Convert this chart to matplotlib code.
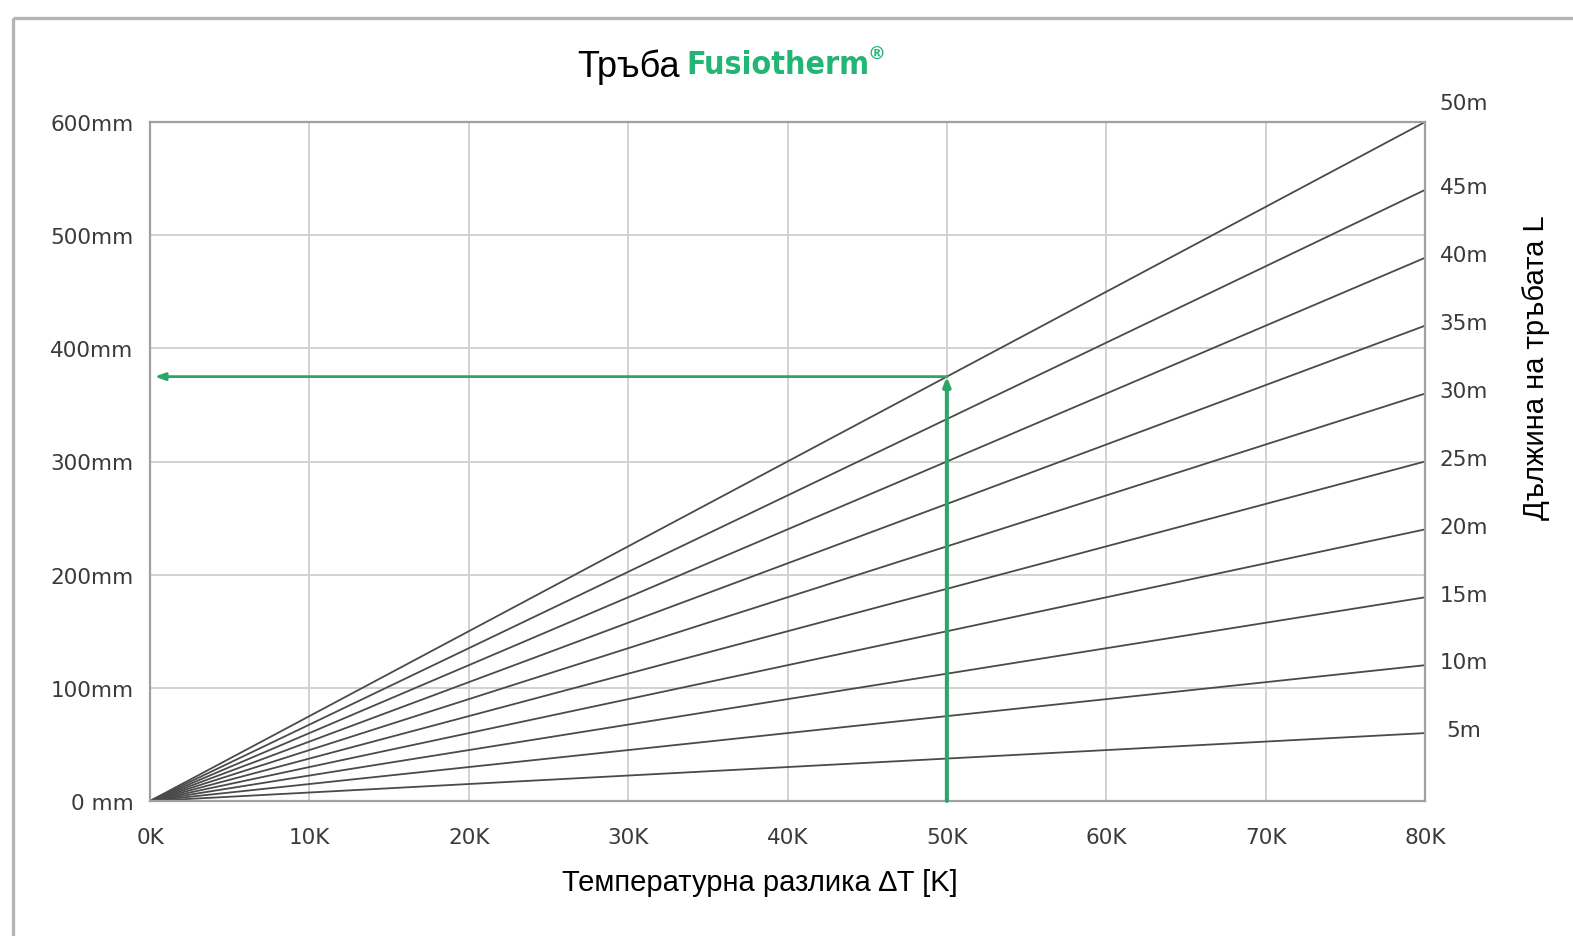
import matplotlib
matplotlib.use('Agg')
import matplotlib.pyplot as plt
from matplotlib.lines import Line2D

# ---- data ----
delta_t_ticks = [0, 10, 20, 30, 40, 50, 60, 70, 80]
x_tick_labels = ['0K', '10K', '20K', '30K', '40K', '50K', '60K', '70K', '80K']
y_ticks = [0, 100, 200, 300, 400, 500, 600]
y_tick_labels = ['0 mm', '100mm', '200mm', '300mm', '400mm', '500mm', '600mm']
pipe_lengths = ['5m', '10m', '15m', '20m', '25m', '30m', '35m', '40m', '45m', '50m']
expansion_at_80k = [60, 120, 180, 240, 300, 360, 420, 480, 540, 600]
dt_start = 0
dt_end = 80
selected_dt = 50
selected_expansion = 375

title_plain = 'Тръба'
title_brand = 'Fusiotherm'
x_label = 'Температурна разлика ∆T [K]'
right_label = 'Дължина на тръбата L'

W, H = 1573, 937
fig = plt.figure(figsize=(W / 100, H / 100), dpi=100)
fig.patch.set_facecolor('white')

# outer frame
frame_c = '#b4b4b4'
fig.add_artist(Line2D([13 / W, 13 / W], [0, 1 - 19 / H], transform=fig.transFigure,
                      color=frame_c, lw=2.4, solid_capstyle='butt'))
fig.add_artist(Line2D([13 / W, 1], [1 - 19 / H, 1 - 19 / H], transform=fig.transFigure,
                      color=frame_c, lw=2.4, solid_capstyle='butt'))

ax = fig.add_axes([150 / W, 1 - 802 / H, 1275 / W, 679 / H])
ax.set_xlim(dt_start, dt_end)
ax.set_ylim(0, 600)

grid_c = '#d2d2d2'
ax.set_xticks(delta_t_ticks)
ax.set_yticks(y_ticks)
ax.grid(True, color=grid_c, lw=1.4)
ax.set_axisbelow(True)
for s in ax.spines.values():
    s.set_color('#a0a0a0')
    s.set_linewidth(1.6)

tick_font = dict(family='DejaVu Sans', size=15.5, color='#3a3a3a')
ax.set_xticklabels(x_tick_labels, **tick_font)
ax.set_yticklabels(y_tick_labels, **tick_font)
ax.tick_params(axis='x', length=0, pad=19)
ax.tick_params(axis='y', length=0, pad=12)

# expansion lines
for lab, val in zip(pipe_lengths, expansion_at_80k):
    ax.plot([dt_start, dt_end], [0, val], color='#4a4a4a', lw=1.3, solid_capstyle='round')
    dy = 14 if lab == '50m' else 2
    ax.annotate(lab, xy=(dt_end, val), xytext=(28, dy), textcoords='offset points',
                ha='center', va='center', **tick_font)

# green reading path
green = '#2aa768'
ax.annotate('', xy=(selected_dt, selected_expansion), xytext=(selected_dt, 0),
            arrowprops=dict(arrowstyle='-|>,head_length=0.5,head_width=0.2',
                            color=green, lw=2.9, shrinkA=0, shrinkB=0))
ax.annotate('', xy=(dt_start + 0.3, selected_expansion), xytext=(selected_dt, selected_expansion),
            arrowprops=dict(arrowstyle='-|>,head_length=0.6,head_width=0.22',
                            color=green, lw=2.0, shrinkA=0, shrinkB=0))

# titles
fig.text(577 / W, 1 - 67 / H, title_plain, family='Liberation Sans', size=26,
         color='black', ha='left', va='center')
fig.text(686 / W, 1 - 65 / H, title_brand, family='DejaVu Sans', weight='bold',
         stretch='condensed', size=23, color='#22b573', ha='left', va='center')
fig.text(868 / W, 1 - 55 / H, '®', family='DejaVu Sans', weight='bold',
         size=13, color='#22b573', ha='left', va='center')

fig.text(760 / W, 1 - 883 / H, x_label, family='Liberation Sans', size=21,
         color='black', ha='center', va='center')
fig.text(1536 / W, 1 - 368 / H, right_label, family='Liberation Sans', size=21,
         color='black', ha='center', va='center', rotation=90)

fig.savefig('out.png', dpi=100, facecolor='white')
